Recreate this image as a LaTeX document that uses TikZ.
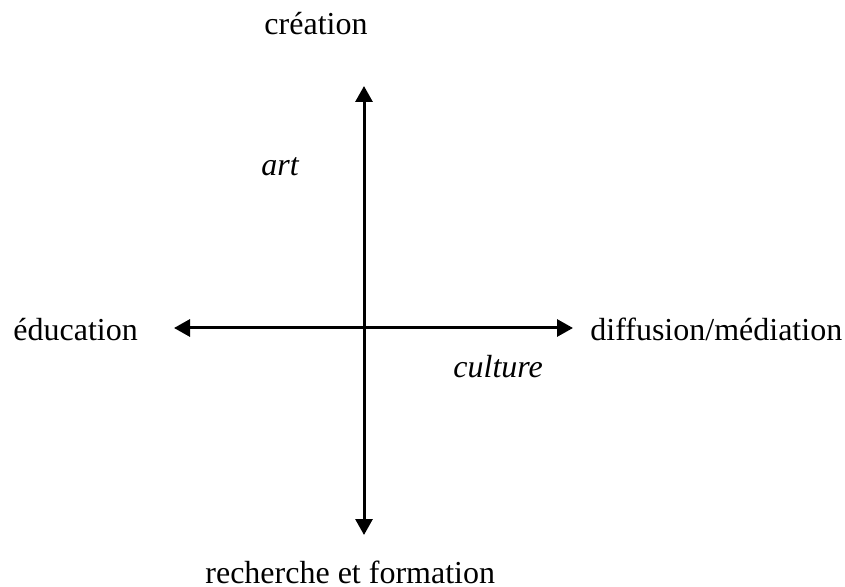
\documentclass[tikz,border=0pt]{standalone}
\usepackage{fontspec}
\setmainfont{Liberation Serif}
\usetikzlibrary{arrows.meta}
\begin{document}
\begin{tikzpicture}[x=0.5pt,y=-0.5pt,
  lbl/.style={inner sep=0pt,font=\fontsize{16}{19}\selectfont},
  axis/.style={line width=1.5pt,{Triangle[length=8pt,width=8.5pt]}-{Triangle[length=8pt,width=8.5pt]}}]
\useasboundingbox (0,0) rectangle (845,587);
\coordinate (top) at (364,86);
\coordinate (bot) at (364,535);
\coordinate (lft) at (174,328);
\coordinate (rgt) at (573,328);
\draw[axis] (top) -- (bot);
\draw[axis] (lft) -- (rgt);
\node[lbl,anchor=base] (creation) at (316,35) {création};
\node[lbl,anchor=base west] (recherche) at (205,583) {recherche et formation};
\node[lbl,anchor=base west] (education) at (13,341) {éducation};
\node[lbl,anchor=base west] (diffusion) at (590,341) {diffusion/médiation};
\node[lbl,anchor=base west] (art) at (261,176) {\itshape art};
\node[lbl,anchor=base west] (culture) at (453,378) {\itshape culture};
\end{tikzpicture}
\end{document}
